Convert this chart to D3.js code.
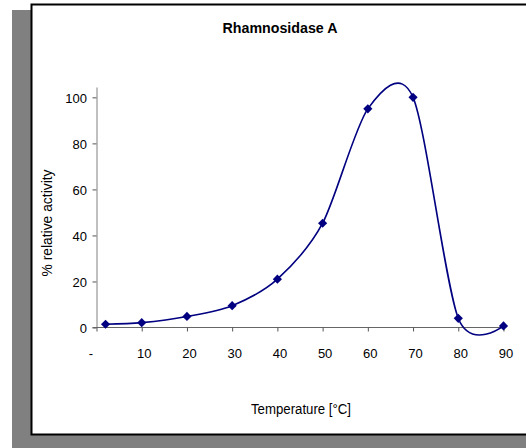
<!DOCTYPE html>
<meta charset="utf-8">
<style>
    body { margin: 0; background: #fff; }
    text { font-family: "Liberation Sans", Arial, sans-serif; fill: #000; }
</style>
<body>
<div id="chart"></div>
<script src="https://d3js.org/d3.v7.min.js"></script>
<script>

    // temperature (°C) and % relative activity
    var temps = [2, 10, 20, 30, 40, 50, 60, 70, 80, 90];
    var activity = [1.4, 2.1, 4.8, 9.5, 21, 45.3, 95, 100, 4, 0.7];
    var xTicks = [0, 10, 20, 30, 40, 50, 60, 70, 80, 90];
    var yTicks = [0, 20, 40, 60, 80, 100];

    var W = 526, H = 448;

    var svg = d3.select("#chart").append("svg")
        .attr("width", W).attr("height", H);

    // drop shadow + chart frame
    svg.append("rect").attr("x", 12).attr("y", 10)
        .attr("width", W).attr("height", H).attr("fill", "#808080");
    svg.append("rect").attr("x", 31.5).attr("y", 4.5)
        .attr("width", W + 20).attr("height", 430)
        .attr("fill", "#fff").attr("stroke", "#000").attr("stroke-width", 2);

    var x = d3.scaleLinear().domain([0, 90]).range([96.5, 503.5]),
        y = d3.scaleLinear().domain([0, 104.5]).range([327.5, 87]);

    svg.append("text")
        .attr("x", 280).attr("y", 33)
        .attr("text-anchor", "middle")
        .attr("textLength", 115).attr("lengthAdjust", "spacingAndGlyphs")
        .style("font-size", "14px").style("font-weight", "bold")
        .text("Rhamnosidase A");

    // y axis
    var axY = svg.append("g")
        .attr("transform", "translate(" + x(0) + ",0)")
        .call(d3.axisLeft(y).tickValues(yTicks).tickSize(4).tickSizeOuter(0));
    axY.select(".domain").attr("stroke", "#808080");
    axY.selectAll(".tick line").attr("stroke", "#555");
    axY.selectAll(".tick text").attr("x", -9.5).attr("dy", "0.36em")
        .style("font-size", "13px").style("font-family", "Liberation Sans, Arial, sans-serif");

    // x axis
    var axX = svg.append("g")
        .attr("transform", "translate(0," + y(0) + ")")
        .call(d3.axisBottom(x).tickValues(xTicks).tickSize(4).tickSizeOuter(0)
            .tickFormat(d => d === 0 ? "-" : d));
    axX.select(".domain").attr("stroke", "#666").attr("d", "M92.5,0H" + x(90));
    axX.selectAll(".tick line").attr("stroke", "#555");
    axX.selectAll(".tick text").attr("y", 21)
        .attr("dx", d => d === 0 ? -6 : 2)
        .style("font-size", "13px").style("font-family", "Liberation Sans, Arial, sans-serif");
    axX.selectAll("text").attr("fill", "#000");
    axY.selectAll("text").attr("fill", "#000");

    // axis titles
    svg.append("text")
        .attr("transform", "translate(52,223) rotate(-90)")
        .attr("text-anchor", "middle")
        .attr("textLength", 107).attr("lengthAdjust", "spacingAndGlyphs")
        .style("font-size", "14px")
        .text("% relative activity");

    svg.append("text")
        .attr("x", 301).attr("y", 414)
        .attr("text-anchor", "middle")
        .attr("textLength", 100).attr("lengthAdjust", "spacingAndGlyphs")
        .style("font-size", "14px")
        .text("Temperature [°C]");

    // smoothed series
    var pts = temps.map((t, i) => [t, activity[i]]);
    var line = d3.line()
        .x(d => x(d[0])).y(d => y(d[1]))
        .curve(d3.curveCardinal.tension(0.15));

    svg.append("path")
        .datum(pts)
        .attr("d", line)
        .attr("fill", "none")
        .attr("stroke", "#000080")
        .attr("stroke-width", 1.6);

    svg.append("g").selectAll("path")
        .data(pts).enter().append("path")
        .attr("d", d3.symbol(d3.symbolSquare, 42))
        .attr("transform", d => "translate(" + x(d[0]) + "," + y(d[1]) + ") rotate(45)")
        .attr("fill", "#000080");

</script>
</body>
